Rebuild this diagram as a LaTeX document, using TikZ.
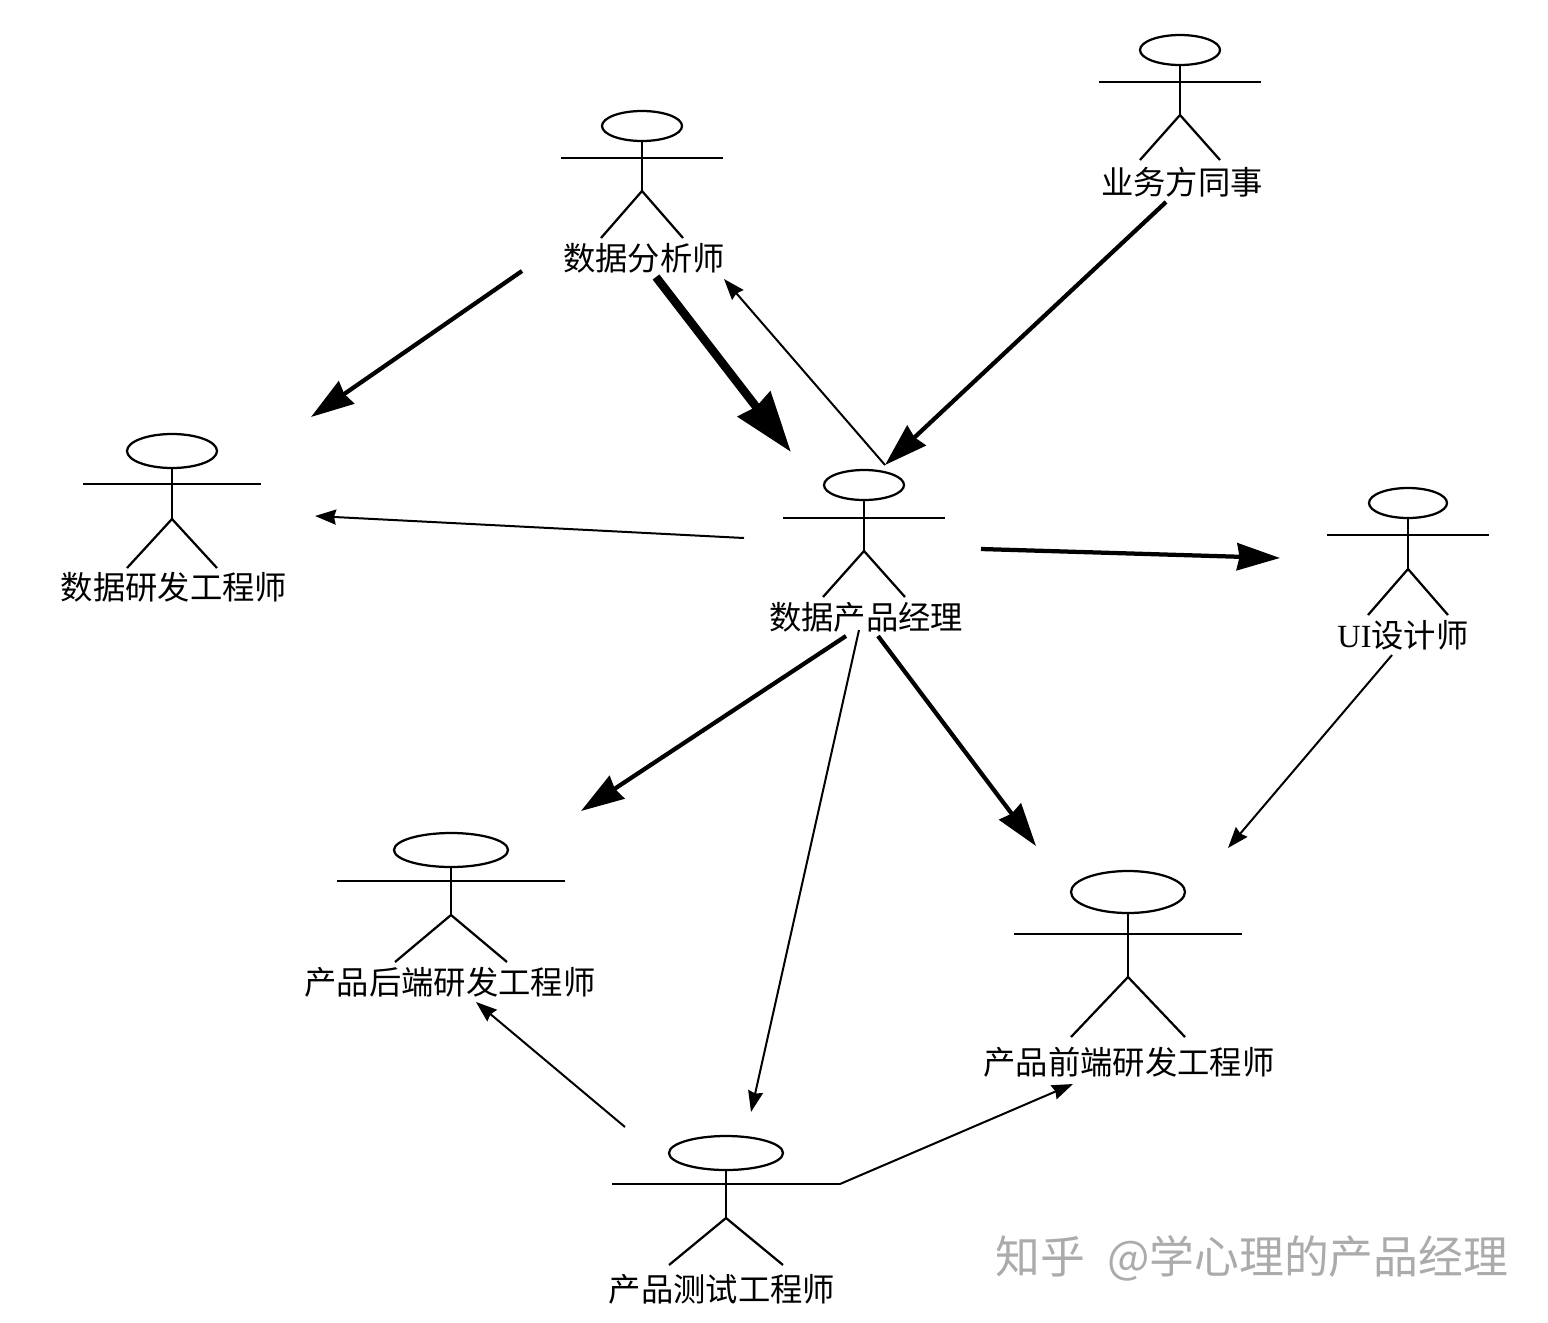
\documentclass[tikz,border=0pt]{standalone}
\usepackage{fontspec}
\setmainfont{Liberation Serif}
\newfontfamily\cjk{Noto Sans CJK SC}
\usetikzlibrary{arrows.meta, positioning, shapes.geometric}

\begin{document}
\begin{tikzpicture}[
  x=0.02cm, y=-0.02cm,
  head/.style={draw, ellipse, line width=0.045cm, inner sep=0pt},
  limb/.style={line width=0.045cm},
  lbl/.style={font=\fontsize{18.4pt}{20pt}\selectfont\cjk, inner sep=0pt},
  wmark/.style={font=\fontsize{25.5pt}{28pt}\selectfont\cjk, text=black!33, inner sep=0pt},
  thinarr/.style={-{Stealth[length=0.42cm, width=0.3cm, inset=0.04cm]}, line width=0.04cm},
  midarr/.style={-{Stealth[length=0.86cm, width=0.54cm, inset=0.05cm]}, line width=0.085cm},
  fatarr/.style={-{Stealth[length=1.2cm, width=0.8cm, inset=0.06cm]}, line width=0.17cm}
]
  \useasboundingbox (0,0) rectangle (1548,1322);

  % name / x / head y / rx / ry / half arm / arm y / hip y / leg dx / foot y / label x / label y / text
  \foreach \who/\cx/\hy/\rx/\ry/\arm/\ay/\hip/\leg/\foot/\tx/\ty/\txt in {
    client/1180/50/40/15/81/82/115/40/160/1182/182/{业务方同事},
    analyst/642/126/40/15/81/158/191/41/238/644/258/{数据分析师},
    datadev/172/451/45/17/89/484/519/45/568/174/587/{数据研发工程师},
    manager/864/485/40/15/81/518/551/41/597/866/617/{数据产品经理},
    designer/1408/503/39/15/81/535/569/40/615/1403/635/{{\rmfamily UI}设计师},
    backend/451/850/57/17/114/881/915/56/962/450/982/{产品后端研发工程师},
    frontend/1128/892/57/21/114/934/977/57/1037/1129/1062/{产品前端研发工程师},
    tester/726/1153/57/17/114/1184/1218/57/1265/722/1289/{产品测试工程师}}
  {
    \node[head, minimum width=2*\rx*0.02cm, minimum height=2*\ry*0.02cm] (\who) at (\cx,\hy) {};
    \node[lbl] (\who-lbl) at (\tx,\ty) {\txt};
    \coordinate (\who-l) at (\cx-\arm,\ay);
    \coordinate (\who-r) at (\cx+\arm,\ay);
    \coordinate (\who-hip) at (\cx,\hip);
    \coordinate (\who-fl) at (\cx-\leg,\foot);
    \coordinate (\who-fr) at (\cx+\leg,\foot);
    \draw[limb] (\who-l) -- (\who-r);
    \draw[limb] (\who) -- (\who-hip);
    \draw[limb] (\who-fl) -- (\who-hip) -- (\who-fr);
  }

  \node[wmark, anchor=west] (zhihu) at (995,1258) {知乎\hspace{0.5em}@学心理的产品经理};

  % free ends of the arrows
  \coordinate (a1) at (522,271);
  \coordinate (a2) at (311,417);
  \coordinate (b1) at (656,277);
  \coordinate (b2) at (791,452);
  \coordinate (c1) at (885,465);
  \coordinate (c2) at (724,279);
  \coordinate (d1) at (1166,202);
  \coordinate (e1) at (744,538);
  \coordinate (e2) at (315,516);
  \coordinate (f1) at (981,549);
  \coordinate (f2) at (1280,558);
  \coordinate (g1) at (846,636);
  \coordinate (g2) at (581,811);
  \coordinate (h1) at (859,630);
  \coordinate (h2) at (751,1112);
  \coordinate (i1) at (878,636);
  \coordinate (i2) at (1036,846);
  \coordinate (j1) at (1392,655);
  \coordinate (j2) at (1228,848);
  \coordinate (k1) at (625,1127);
  \coordinate (k2) at (476,1002);
  \coordinate (m2) at (1073,1084);

  \draw[midarr] (a1) -- (a2);
  \draw[fatarr] (b1) -- (b2);
  \draw[thinarr] (c1) -- (c2);
  \draw[midarr] (d1) -- (c1);
  \draw[thinarr] (e1) -- (e2);
  \draw[midarr] (f1) -- (f2);
  \draw[midarr] (g1) -- (g2);
  \draw[thinarr] (h1) -- (h2);
  \draw[midarr] (i1) -- (i2);
  \draw[thinarr] (j1) -- (j2);
  \draw[thinarr] (k1) -- (k2);
  \draw[thinarr] (tester-r) -- (m2);
\end{tikzpicture}
\end{document}
